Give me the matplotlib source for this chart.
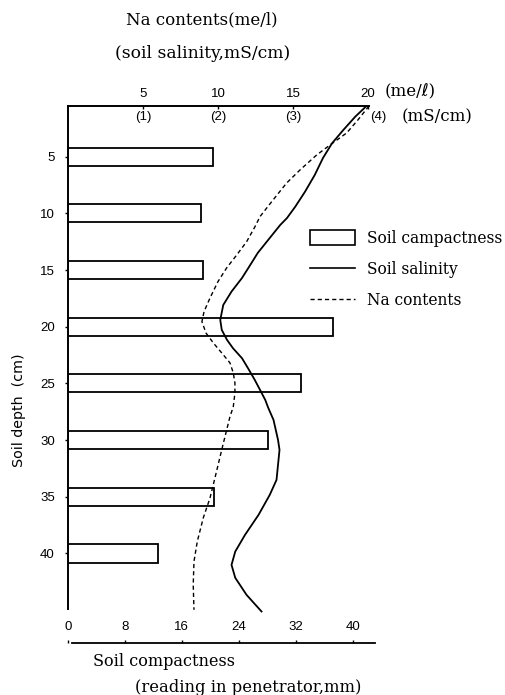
import matplotlib
matplotlib.use("Agg")
import matplotlib.pyplot as plt
from matplotlib.patches import Patch
from matplotlib.lines import Line2D

# Soil compactness (penetrator reading, mm) at sampled depths (cm)
bar_depth = [5, 10, 15, 20, 25, 30, 35, 40]
compactness = [20.4, 18.7, 19.0, 37.2, 32.7, 28.1, 20.5, 12.6]

# Soil salinity profile (mS/cm)
sal_depth = [0.59, 1.47, 2.65, 3.82, 5.11, 6.61, 8.09, 9.41, 10.41, 11.02, 12.17,
             13.49, 14.55, 15.70, 16.90, 18.08, 19.40, 20.28, 21.16, 21.90, 22.78,
             23.66, 24.69, 25.57, 26.46, 27.16, 28.22, 29.98, 30.86, 33.51, 34.83,
             36.60, 38.36, 39.83, 41.01, 42.15, 43.65, 45.12]
salinity = [3.97, 3.83, 3.67, 3.52, 3.40, 3.29, 3.16, 3.03, 2.92, 2.83, 2.69,
            2.53, 2.43, 2.32, 2.18, 2.07, 2.03, 2.05, 2.12, 2.20, 2.32,
            2.40, 2.49, 2.56, 2.63, 2.67, 2.74, 2.80, 2.82, 2.78, 2.69,
            2.54, 2.36, 2.23, 2.18, 2.23, 2.38, 2.58]

# Na contents profile (me/l)
na_depth = [0.53, 1.76, 2.91, 3.97, 4.85, 6.17, 7.32, 8.82, 10.29, 11.17, 12.50,
            13.67, 14.81, 16.02, 17.46, 18.67, 19.55, 20.55, 21.43, 22.31, 23.19,
            24.07, 24.96, 25.84, 27.07, 27.93, 29.10, 30.86, 33.33, 35.10, 36.86,
            38.95, 40.71, 42.77, 44.97]
na = [20.07, 19.33, 18.58, 17.47, 16.58, 15.47, 14.58, 13.67, 12.80, 12.47, 11.91,
      11.25, 10.58, 10.00, 9.47, 9.07, 8.93, 9.20, 9.69, 10.25, 10.80,
      11.02, 11.13, 11.13, 11.02, 10.80, 10.58, 10.25, 9.80, 9.47, 9.02,
      8.62, 8.40, 8.35, 8.40]

depth_ticks = [5, 10, 15, 20, 25, 30, 35, 40]
na_ticks = [5, 10, 15, 20]
sal_ticks = [1, 2, 3, 4]
comp_ticks = [0, 8, 16, 24, 32, 40]

W, H = 505, 695
SERIF = ["DejaVu Serif", "DejaVu Sans"]
SANS = "Liberation Sans"

fig = plt.figure(figsize=(W / 100, H / 100), dpi=100)

def rect(x0, y0, x1, y1):
    return [x0 / W, 1 - y1 / H, (x1 - x0) / W, (y1 - y0) / H]

def fxy(px, py):
    return px / W, 1 - py / H

ax = fig.add_axes(rect(68, 106, 369, 609))
ax.set_xlim(0, 42.3)
ax.set_ylim(44.9, 0.53)
for s in ("right", "bottom"):
    ax.spines[s].set_visible(False)
for s in ("left", "top"):
    ax.spines[s].set_linewidth(1.4)
ax.set_xticks([])
ax.set_yticks(depth_ticks)
ax.set_yticklabels([str(d) for d in depth_ticks], family=SANS, fontsize=9.5)
ax.tick_params(axis="y", length=2.5, width=1, pad=7)
ax.set_ylabel("Soil depth  (cm)", family="DejaVu Sans", fontsize=10.3)
ax.yaxis.set_label_coords((26 - 68) / 301, 1 - (410 - 106) / 503)

ax.barh(bar_depth, compactness, height=1.6, left=0, facecolor="white",
        edgecolor="black", linewidth=1.3, zorder=2)

# Na contents axis (top, me/l)
ax_na = ax.twiny()
ax_na.set_xlim(0, 20.07)
for s in ax_na.spines.values():
    s.set_visible(False)
ax_na.set_xticks(na_ticks)
ax_na.set_xticklabels([str(t) for t in na_ticks], family=SANS, fontsize=9.5)
ax_na.tick_params(axis="x", length=2, width=1, pad=4, direction="in")
ax_na.plot(na, na_depth, color="black", lw=1.0, ls=(0, (3, 2.2)),
           clip_on=False)

# Soil salinity axis (top, mS/cm)
ax_sal = ax.twiny()
ax_sal.set_xlim(0, 4.013)
for s in ax_sal.spines.values():
    s.set_visible(False)
ax_sal.set_xticks([])
ax_sal.plot(salinity, sal_depth, color="black", lw=1.3, clip_on=False,
            solid_joinstyle="round")
sal_tr = ax_sal.get_xaxis_transform()
for t in sal_ticks[:-1]:
    ax_sal.text(t, 0.978, f"({t})", transform=sal_tr, ha="center",
                va="center", family=SANS, fontsize=9.5)
ax_sal.annotate(f"({sal_ticks[-1]})", (sal_ticks[-1], 0.978), xycoords=sal_tr,
                xytext=(1.5, 0), textcoords="offset points", ha="left",
                va="center", family=SANS, fontsize=9.5)

fig.text(*fxy(385, 92), "(me/\u2113)", ha="left", va="center",
         family=SERIF, fontsize=12)
fig.text(*fxy(402, 117), "(mS/cm)", ha="left", va="center",
         family=SERIF, fontsize=12)

# Detached compactness scale below the profile
ax_b = fig.add_axes(rect(68, 643, 375, 644))
ax_b.set_xlim(0, 42.3 + 6 / 7.12)
ax_b.patch.set_visible(False)
for s in ("left", "right", "bottom"):
    ax_b.spines[s].set_visible(False)
ax_b.spines["top"].set_linewidth(1.3)
ax_b.spines["top"].set_bounds(0.56, 43.1)
ax_b.set_yticks([])
ax_b.xaxis.tick_top()
ax_b.set_xticks(comp_ticks)
ax_b.set_xticklabels([str(t) for t in comp_ticks], family=SANS, fontsize=9.5)
ax_b.tick_params(axis="x", length=2, width=1, pad=5)

fig.text(*fxy(93, 661), "Soil compactness", ha="left", va="center",
         family=SERIF, fontsize=11.6)
fig.text(*fxy(135, 687), "(reading in penetrator,mm)", ha="left",
         va="center", family=SERIF, fontsize=11.8)

fig.text(*fxy(202, 20), "Na contents(me/l)", ha="center", va="center",
         family=SERIF, fontsize=12)
fig.text(*fxy(203, 53), "(soil salinity,mS/cm)", ha="center", va="center",
         family=SERIF, fontsize=12.3)

handles = [
    Patch(facecolor="white", edgecolor="black", linewidth=1.2),
    Line2D([], [], color="black", lw=1.2),
    Line2D([], [], color="black", lw=1.0, ls=(0, (3, 2.2))),
]
labels = ["Soil campactness", "Soil salinity", "Na contents"]
fig.legend(handles, labels, loc="upper left",
           bbox_to_anchor=fxy(304, 224), frameon=False,
           prop={"family": SERIF, "size": 11.2},
           handlelength=2.9, handleheight=1.1, handletextpad=0.75,
           labelspacing=0.9, borderaxespad=0)

fig.savefig("out.png", dpi=100)
